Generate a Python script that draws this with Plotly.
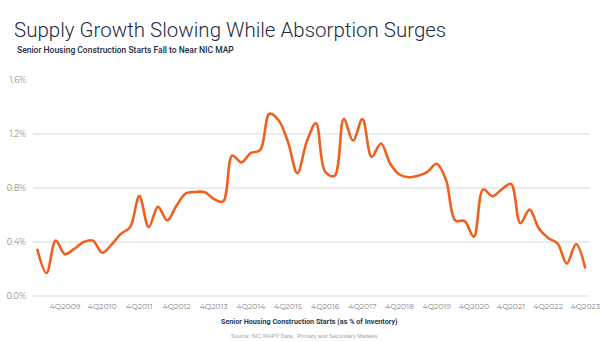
import plotly.graph_objects as go

# Quarterly senior housing construction starts, % of inventory (1Q2009 - 4Q2023)
quarters = [f"{q}Q{y}" for y in range(2009, 2024) for q in range(1, 5)]
starts_pct = [
    0.35, 0.17, 0.41, 0.31,   # 2009
    0.35, 0.40, 0.41, 0.32,   # 2010
    0.38, 0.46, 0.51, 0.74,   # 2011
    0.51, 0.66, 0.56, 0.67,   # 2012
    0.76, 0.77, 0.77, 0.72,   # 2013
    0.70, 1.04, 0.99, 1.06,   # 2014
    1.08, 1.35, 1.30, 1.14,   # 2015
    0.91, 1.14, 1.28, 0.92,   # 2016
    0.89, 1.31, 1.15, 1.31,   # 2017
    1.03, 1.13, 0.98, 0.90,   # 2018
    0.88, 0.89, 0.92, 0.98,   # 2019
    0.86, 0.56, 0.555, 0.44,  # 2020
    0.79, 0.74, 0.79, 0.83,   # 2021
    0.54, 0.64, 0.50, 0.43,   # 2022
    0.39, 0.24, 0.385, 0.205, # 2023
]
y_ticks = [0.0, 0.4, 0.8, 1.2, 1.6]
y_tick_labels = ["0.0%", "0.4%", "0.8%", "1.2%", "1.6%"]

idx = list(range(len(quarters)))
x_tick_idx = [i for i, q in enumerate(quarters) if q.startswith("4Q")]
x_tick_text = [quarters[i] for i in x_tick_idx]

fig = go.Figure()
fig.add_trace(go.Scatter(
    x=idx, y=starts_pct, mode="lines",
    line=dict(color="#f0601e", width=2.6, shape="spline", smoothing=1.0),
    customdata=quarters, hovertemplate="%{customdata}: %{y:.2f}%<extra></extra>",
))

fig.update_layout(
    width=600, height=342,
    paper_bgcolor="white", plot_bgcolor="white",
    margin=dict(l=33, r=10, t=80, b=46, autoexpand=False),
    showlegend=False,
    title=dict(
        text="Supply Growth Slowing While Absorption Surges",
        x=14 / 600, xref="container", xanchor="left",
        y=1 - 30 / 342, yref="container", yanchor="middle",
        pad=dict(l=0, t=0, b=0),
        font=dict(family="Roboto", size=20.5, color="#1d2c40", weight=300),
    ),
)

fig.update_xaxes(
    range=[-0.45, 59.5], tickmode="array", tickvals=x_tick_idx, ticktext=x_tick_text,
    showgrid=False, zeroline=False, showline=False, ticks="",
    tickfont=dict(family="Montserrat, Open Sans", size=7.7, color="#858585"),
    tickangle=0, ticklabeloverflow="allow",
    ticklabelstandoff=4, automargin=False,
)
fig.update_yaxes(
    range=[0, 1.6], tickmode="array", tickvals=y_ticks, ticktext=y_tick_labels,
    showgrid=True, gridcolor="#ececec", gridwidth=1.5,
    zeroline=True, zerolinecolor="#ececec", zerolinewidth=1.5,
    showline=False, ticks="", ticklabelstandoff=6, automargin=False,
    tickfont=dict(family="Montserrat, Open Sans", size=8.3, color="#8a8a8a"),
)

fig.add_annotation(
    text="Senior Housing Construction Starts Fall to Near NIC MAP",
    xref="paper", yref="paper", x=-18 / 557, y=1 + 30 / 216,
    xanchor="left", yanchor="middle", showarrow=False,
    font=dict(family="Roboto", size=8.5, color="#1d2c40", weight=500),
)
fig.add_annotation(
    text="<b>Senior Housing Construction Starts (as % of Inventory)</b>",
    xref="paper", yref="paper", x=(309 - 33) / 557, y=-(321 - 296) / 216,
    xanchor="center", yanchor="middle", showarrow=False,
    font=dict(family="Roboto", size=7.2, color="#2b3a4a"),
)
fig.add_annotation(
    text="Source: NIC MAP\u00ae Data,  Primary and Secondary Markets.",
    xref="paper", yref="paper", x=(305 - 33) / 557, y=-(336 - 296) / 216,
    xanchor="center", yanchor="middle", showarrow=False,
    font=dict(family="Liberation Sans", size=5.6, color="#a0a0a0"),
)

fig.write_html("out.html")
